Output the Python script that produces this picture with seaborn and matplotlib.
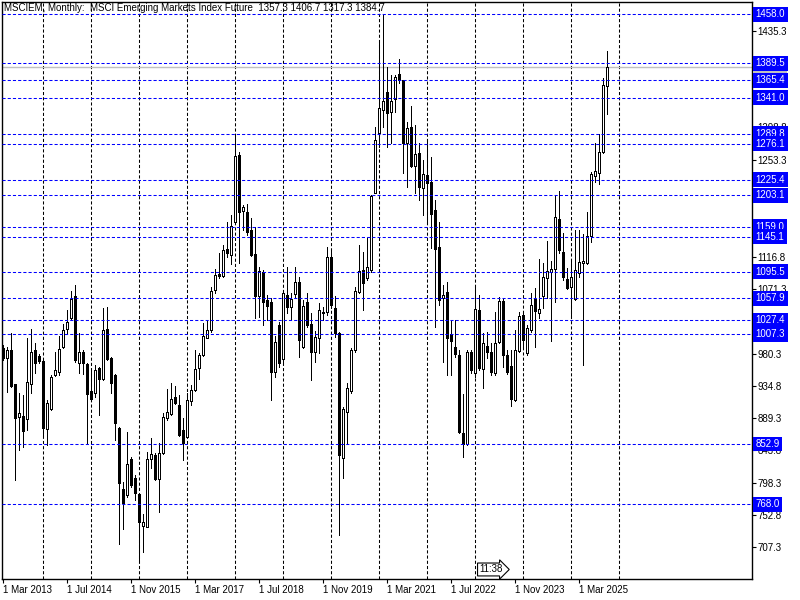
import numpy as np
import pandas as pd
import matplotlib
matplotlib.use("Agg")
import matplotlib.pyplot as plt
import seaborn as sns

# monthly OHLC, first bar = Mar 2013, last bar = Oct 2025
opens = [988.5, 973.5, 985.2, 936.9, 890.4, 892.2, 887.5, 936.9, 985.2, 977.3,
         969.7, 873.5, 901.6, 950.0, 954.7, 989.9, 1014.8, 1029.9, 1061.4, 967.4,
         982.9, 965.5, 928.0, 924.2, 959.4, 943.9, 1014.8, 974.4, 950.0, 875.8,
         789.4, 780.9, 831.7, 804.9, 782.8, 737.7, 736.3, 831.2, 837.3, 803.5,
         839.6, 889.0, 894.6, 918.6, 907.7, 872.5, 863.1, 913.9, 928.9, 959.4,
         978.2, 1002.6, 1013.4, 1069.8, 1092.3, 1089.5, 1127.1, 1119.1, 1166.1, 1260.0,
         1181.5, 1179.2, 1154.3, 1120.5, 1061.8, 1095.6, 1055.7, 1053.3, 954.7, 1020.4,
         972.1, 1062.7, 1045.3, 1064.1, 1080.6, 989.9, 1052.4, 1022.0, 982.9, 1002.6,
         1039.3, 1039.2, 1115.8, 1045.0, 1008.7, 832.6, 898.4, 927.5, 985.2, 1067.4,
         1097.9, 1087.1, 1098.0, 1206.9, 1290.5, 1323.4, 1348.3, 1321.0, 1338.4, 1374.1,
         1365.7, 1276.4, 1299.9, 1245.0, 1262.3, 1213.1, 1231.9, 1221.5, 1182.6, 1129.9,
         1058.1, 1066.5, 1007.3, 989.9, 978.2, 867.8, 852.8, 982.9, 953.3, 1041.6,
         958.0, 990.9, 982.9, 953.3, 997.0, 1054.3, 978.2, 963.2, 914.8, 984.3,
         1034.1, 981.5, 1013.4, 1056.7, 1037.9, 1061.8, 1086.3, 1095.7, 1099.0, 1169.9,
         1123.4, 1085.3, 1073.6, 1057.1, 1093.3, 1108.3, 1108.3, 1146.4, 1230.5, 1234.2,
         1263.8, 1357.3]
highs = [992.0, 990.0, 1008.7, 937.5, 924.0, 921.8, 1001.7, 1014.9, 995.6, 979.0,
         971.0, 914.8, 950.0, 982.0, 1005.0, 1021.9, 1041.7, 1068.4, 1076.9, 1008.7,
         985.2, 967.4, 957.1, 964.1, 961.8, 1044.0, 1046.4, 975.9, 951.4, 877.2,
         799.7, 870.2, 835.0, 809.1, 783.3, 753.7, 842.0, 860.8, 839.6, 853.7,
         896.0, 930.3, 938.3, 934.5, 921.8, 889.0, 924.2, 936.0, 985.2, 980.5,
         1022.8, 1027.5, 1074.5, 1098.9, 1121.4, 1133.2, 1166.1, 1175.4, 1288.2, 1264.7,
         1189.5, 1191.0, 1170.8, 1158.1, 1102.6, 1098.0, 1062.7, 1058.0, 1005.0, 1025.0,
         1069.8, 1102.6, 1065.0, 1102.6, 1088.6, 1055.7, 1065.0, 1036.9, 1012.0, 1051.9,
         1046.3, 1130.8, 1125.0, 1062.0, 1011.0, 905.4, 938.3, 987.6, 1074.5, 1133.2,
         1123.8, 1142.6, 1203.6, 1299.9, 1418.3, 1458.2, 1384.5, 1372.7, 1372.7, 1394.8,
         1365.7, 1307.0, 1329.0, 1302.3, 1276.4, 1253.0, 1281.2, 1256.8, 1196.7, 1166.1,
         1076.9, 1080.6, 1026.6, 1027.5, 985.2, 923.3, 985.2, 985.2, 1076.9, 1062.8,
         1008.7, 1011.1, 994.6, 1039.3, 1060.4, 1058.0, 985.2, 985.2, 1013.5, 1039.3,
         1039.3, 1020.0, 1065.1, 1072.2, 1113.0, 1108.3, 1138.9, 1110.7, 1203.7, 1209.3,
         1149.7, 1100.4, 1112.1, 1154.4, 1154.4, 1148.7, 1179.3, 1236.6, 1277.4, 1289.2,
         1368.1, 1406.7]
lows = [971.0, 926.5, 932.6, 802.0, 844.3, 849.0, 872.5, 924.2, 952.4, 966.5,
        862.2, 851.4, 900.7, 948.6, 950.0, 987.6, 1008.7, 1027.5, 968.8, 953.3,
        951.4, 854.7, 914.8, 918.6, 893.7, 943.0, 971.2, 924.2, 858.4, 712.0,
        732.5, 778.6, 792.7, 773.9, 689.0, 700.0, 735.4, 818.5, 802.0, 757.4,
        838.7, 886.6, 893.7, 909.2, 864.1, 830.2, 862.2, 907.7, 928.0, 943.9,
        976.8, 1001.7, 1011.0, 1065.1, 1086.2, 1087.6, 1116.7, 1107.0, 1163.7, 1107.3,
        1154.3, 1147.3, 1117.7, 1029.8, 1032.2, 1020.5, 1027.5, 914.8, 947.7, 961.8,
        968.8, 1036.9, 1027.5, 1060.4, 974.9, 987.6, 1018.0, 943.0, 968.8, 980.5,
        1027.5, 1034.6, 1045.0, 1003.1, 724.6, 804.4, 854.7, 924.2, 982.9, 1065.1,
        1041.6, 1083.9, 1095.6, 1206.0, 1271.7, 1300.0, 1271.7, 1276.4, 1320.0, 1361.0,
        1234.2, 1215.4, 1243.5, 1206.0, 1196.6, 1175.5, 1164.7, 1128.5, 1018.2, 1048.0,
        968.8, 950.0, 950.0, 975.9, 868.8, 835.0, 851.4, 952.4, 947.7, 957.1,
        931.2, 973.5, 950.0, 950.0, 994.6, 961.8, 951.4, 906.3, 913.9, 982.9,
        989.9, 978.2, 1011.0, 989.0, 1030.0, 1044.9, 1058.1, 998.4, 1053.4, 1121.5,
        1083.9, 1070.8, 1032.2, 1055.7, 1088.6, 964.0, 1106.5, 1137.9, 1222.5, 1218.7,
        1262.4, 1317.3]
closes = [973.5, 985.2, 934.5, 889.0, 896.0, 871.6, 940.2, 982.9, 966.5, 970.2,
          875.8, 910.1, 946.7, 957.1, 986.2, 1013.4, 1024.2, 1056.7, 971.2, 982.9,
          967.4, 922.8, 916.7, 957.1, 944.4, 1013.4, 972.6, 938.3, 881.9, 797.4,
          770.1, 824.6, 795.0, 784.2, 743.4, 742.4, 831.2, 838.7, 803.5, 840.6,
          890.4, 897.4, 916.2, 910.1, 865.5, 854.7, 914.8, 928.9, 958.0, 978.2,
          1005.0, 1013.4, 1068.4, 1090.9, 1089.5, 1126.1, 1121.4, 1160.4, 1258.6, 1180.1,
          1186.3, 1151.9, 1119.1, 1061.3, 1097.0, 1053.3, 1047.2, 954.7, 997.0, 967.4,
          1065.1, 1045.3, 1056.6, 1080.6, 999.3, 1047.2, 1020.0, 982.9, 1004.0, 1041.6,
          1037.9, 1115.8, 1048.7, 1008.7, 837.3, 901.6, 931.2, 985.2, 1068.4, 1096.5,
          1080.1, 1102.6, 1202.2, 1281.1, 1325.7, 1336.1, 1318.7, 1336.1, 1369.4, 1365.7,
          1276.4, 1298.5, 1245.0, 1261.4, 1214.4, 1232.8, 1220.1, 1176.9, 1127.1, 1055.7,
          1062.8, 1002.6, 998.4, 979.6, 870.2, 852.8, 982.9, 957.1, 1042.5, 959.4,
          995.6, 982.9, 954.7, 995.6, 1054.3, 978.2, 954.7, 916.2, 985.2, 1033.2,
          999.3, 1015.8, 1048.7, 1040.7, 1042.6, 1087.7, 1096.6, 1099.0, 1172.2, 1126.2,
          1088.6, 1072.2, 1088.6, 1098.0, 1108.8, 1110.7, 1146.4, 1232.8, 1237.5, 1263.8,
          1358.2, 1384.7]

# horizontal levels drawn on the chart
levels = [1458.0, 1389.5, 1365.4, 1341.0, 1289.8, 1276.1, 1225.4, 1203.1,
          1159.0, 1145.1, 1095.5, 1057.9, 1027.4, 1007.3, 852.9, 768.0]
price_ticks = [707.3, 752.8, 798.3, 843.8, 889.3, 934.8, 980.3, 1025.8, 1071.3,
               1116.8, 1162.3, 1207.8, 1253.3, 1298.8, 1344.3, 1389.8, 1435.3]
# tick labels that sit fully under a level tag
hidden_ticks = [1025.8, 1344.3, 1389.8]
date_labels = ["1 Mar 2013", "1 Jul 2014", "1 Nov 2015", "1 Mar 2017", "1 Jul 2018",
               "1 Nov 2019", "1 Mar 2021", "1 Jul 2022", "1 Nov 2023", "1 Mar 2025"]
label_bars = [0, 16, 32, 48, 64, 80, 96, 112, 128, 144]
grid_bars = [10, 22, 34, 46, 58, 70, 82, 94, 106, 118, 130, 142, 154]
bid = 1384.7

months = pd.date_range("2013-03-01", periods=len(opens), freq="MS")
df = pd.DataFrame({"month": months, "open": opens, "high": highs,
                   "low": lows, "close": closes})
df["x"] = np.arange(len(df))
df["up"] = df["close"] >= df["open"]

sns.set_style("white")
plt.rcParams["font.family"] = ["Liberation Sans", "DejaVu Sans"]
FS = 7

fig = plt.figure(figsize=(8, 6), dpi=100)
ax = fig.add_axes([2 / 800, 21 / 600, 750 / 800, 577 / 600])
ax.set_xlim(-0.175, 187.3)
ax.set_ylim(662.6, 1475.6)

# yearly dashed grid
for g in grid_bars:
    ax.axvline(g, color="black", lw=0.75, dashes=(3, 2), zorder=0.5)

# candles: 1px wicks, 3px bodies (white = up, black = down)
ax.vlines(df["x"], df["low"], df["high"], color="black", lw=0.72, zorder=2,
          antialiased=False)
body_lo = df[["open", "close"]].min(axis=1)
body_h = (df["close"] - df["open"]).abs()
up = df[df["up"]]
dn = df[~df["up"]]
ax.bar(up["x"], body_h[df["up"]], bottom=body_lo[df["up"]], width=0.5,
       color="white", edgecolor="black", linewidth=0.72, zorder=2.5,
       antialiased=False)
ax.bar(dn["x"], body_h[~df["up"]], bottom=body_lo[~df["up"]], width=0.5,
       color="black", edgecolor="black", linewidth=0.72, zorder=2.5,
       antialiased=False)

# bid line
ax.axhline(bid, color="#c0c0c0", lw=1.0, zorder=1.5)
ax.text(1.004, bid, f"{bid:.1f}", transform=ax.get_yaxis_transform(),
        ha="left", va="center", color="white", fontsize=FS,
        bbox=dict(boxstyle="square,pad=0.25", fc="#c0c0c0", ec="none"),
        zorder=5, clip_on=False)

# horizontal level lines with blue price tags
for lv in levels:
    ax.axhline(lv, color="#0000ff", lw=0.75, dashes=(3, 2), zorder=3)
    ax.text(1.005, lv, f"{lv:.1f}", transform=ax.get_yaxis_transform(),
            ha="left", va="center", color="white", fontsize=FS,
            bbox=dict(boxstyle="square,pad=0.25", fc="#0000ff", ec="none"),
            zorder=6, clip_on=False)

# axes decoration
ax.yaxis.tick_right()
ax.set_yticks(price_ticks)
ax.set_yticklabels(["" if t in hidden_ticks else f"{t:.1f}" for t in price_ticks])
ax.set_xticks(label_bars)
ax.set_xticklabels(date_labels, ha="left")
ax.tick_params(axis="both", direction="out", length=3, width=0.8,
               color="black", labelsize=FS, labelcolor="black", pad=1)
ax.tick_params(axis="y", right=True, left=False)
ax.tick_params(axis="x", bottom=True)
for s in ax.spines.values():
    s.set_visible(True)
    s.set_color("black")
    s.set_linewidth(1.0)

ax.text(0.003, 0.989,
        "MSCIEM, Monthly:  MSCI Emerging Markets Index Future  "
        f"{opens[-1]:.1f} {highs[-1]:.1f} {lows[-1]:.1f} {closes[-1]:.1f}",
        transform=ax.transAxes, ha="left", va="center", fontsize=FS,
        color="black", zorder=7)

ax.text(0.636, 0.0165, "11:38", transform=ax.transAxes, ha="left",
        va="center", fontsize=FS, color="black", zorder=7,
        bbox=dict(boxstyle="rarrow,pad=0.15", fc="white", ec="black", lw=0.8))

ax.set_xlabel("")
ax.set_ylabel("")
fig.savefig("out.png", dpi=100, facecolor="white")
